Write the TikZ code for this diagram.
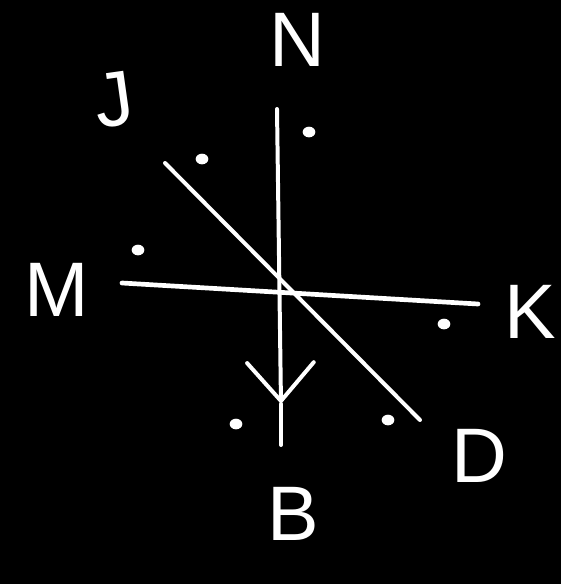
\documentclass[tikz,border=0pt]{standalone}
\usepackage{fontspec}
\setmainfont{Liberation Sans}
\usetikzlibrary{arrows.meta,positioning,shapes.geometric}

\begin{document}
\begin{tikzpicture}[x=0.03cm,y=-0.03cm,
  axis/.style={draw=white,line width=4pt,line cap=round},
  arrow/.style={axis,-{Straight Barb[length=1.15cm,width=2cm,line cap=round]}},
  lbl/.style={text=white,font=\fontsize{66}{66}\selectfont,inner sep=0pt},
  pt/.style={fill=white,ellipse,inner sep=0pt,minimum width=0.38cm,minimum height=0.32cm}
]
\fill[black] (0,0) rectangle (561,584);
% line ends
\coordinate (ntop) at (277,109);
\coordinate (btip) at (281,404);
\coordinate (bbot) at (281,445);
\coordinate (mend) at (122,283);
\coordinate (kend) at (478,304);
\coordinate (jend) at (165,163);
\coordinate (dend) at (420,420);
% the three lines
\draw[axis] (mend) -- (kend);
\draw[axis,line width=3.4pt] (jend) -- (dend);
\draw[arrow,line width=3.4pt] (ntop) -- (btip);
\draw[axis,line width=3.4pt] (btip) -- (bbot);
% dots
\node[pt] (p1) at (309,132) {};
\node[pt] (p2) at (202,159) {};
\node[pt] (p3) at (138,250) {};
\node[pt] (p4) at (444,324) {};
\node[pt] (p5) at (236,424) {};
\node[pt] (p6) at (388,420) {};
% letters
\node[lbl] (n) at (297,40) {N};
\node[lbl,rotate=8] (j) at (114,100) {J};
\node[lbl] (m) at (57,290) {M};
\node[lbl] (k) at (530,312) {K};
\node[lbl] (d) at (479,456) {D};
\node[lbl] (b) at (293,514) {B};
\end{tikzpicture}
\end{document}
